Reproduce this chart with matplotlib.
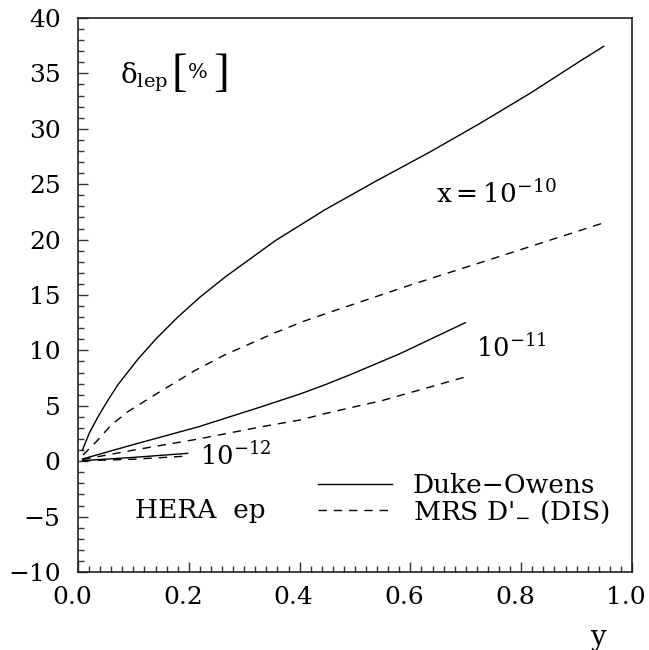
import matplotlib
matplotlib.use("Agg")
import matplotlib.pyplot as plt
from matplotlib.ticker import MultipleLocator
from matplotlib.transforms import ScaledTranslation

plt.rcParams['font.family'] = ['DejaVu Serif']
plt.rcParams['mathtext.fontset'] = 'dejavuserif'

# ---- data ----
# x = 1e-10
y_do_10 = [0.008, 0.02, 0.036, 0.054, 0.072, 0.108, 0.14, 0.18, 0.22, 0.265, 0.356,
           0.446, 0.535, 0.635, 0.726, 0.816, 0.906, 0.949]
d_do_10 = [1.0, 2.5, 4.0, 5.5, 6.9, 9.2, 11.0, 13.0, 14.8, 16.6, 19.9,
           22.7, 25.2, 27.9, 30.5, 33.2, 36.1, 37.45]
y_mrs_10 = [0.009, 0.033, 0.06, 0.09, 0.138, 0.208, 0.265, 0.356, 0.406, 0.446, 0.6, 0.756, 0.948]
d_mrs_10 = [0.56, 1.76, 3.27, 4.47, 5.97, 8.1, 9.6, 11.6, 12.6, 13.3, 15.9, 18.4, 21.5]
# x = 1e-11
y_do_11 = [0.008, 0.1, 0.217, 0.33, 0.401, 0.446, 0.491, 0.581, 0.699]
d_do_11 = [0.2, 1.5, 3.1, 4.9, 6.07, 6.9, 7.8, 9.7, 12.5]
y_mrs_11 = [0.008, 0.1, 0.217, 0.33, 0.401, 0.446, 0.551, 0.699]
d_mrs_11 = [0.15, 1.0, 2.0, 3.1, 3.72, 4.3, 5.5, 7.6]
# x = 1e-12
y_do_12 = [0.008, 0.102, 0.198]
d_do_12 = [0.05, 0.35, 0.71]
y_mrs_12 = [0.008, 0.1, 0.193]
d_mrs_12 = [0.03, 0.18, 0.45]

labels = ['Duke\u2212Owens', r"MRS D$'_{-}$ (DIS)"]

fig = plt.figure(figsize=(6.49, 6.50), dpi=100)
ax = fig.add_axes([78/649, 1 - 572/650, (632-78)/649, (572-18)/650])

lw = 1.0
dash = (6, 5)
l1, = ax.plot(y_do_10, d_do_10, color='black', lw=lw)
l2, = ax.plot(y_mrs_10, d_mrs_10, color='black', lw=lw, dashes=dash)
ax.plot(y_do_11, d_do_11, color='black', lw=lw)
ax.plot(y_mrs_11, d_mrs_11, color='black', lw=lw, dashes=dash)
ax.plot(y_do_12, d_do_12, color='black', lw=lw)
ax.plot(y_mrs_12, d_mrs_12, color='black', lw=lw, dashes=dash)

ax.set_xlim(0, 1)
ax.set_ylim(-10, 40)
ax.xaxis.set_major_locator(MultipleLocator(0.2))
ax.xaxis.set_minor_locator(MultipleLocator(0.02))
ax.yaxis.set_major_locator(MultipleLocator(5))
ax.yaxis.set_minor_locator(MultipleLocator(1))
ax.xaxis.set_major_formatter(matplotlib.ticker.FormatStrFormatter('%.1f'))
ax.tick_params(which='both', direction='in', top=False, right=False, width=1.0, color='#333333')
ax.tick_params(which='major', length=7)
ax.tick_params(which='minor', length=4)
ax.tick_params(axis='x', which='major', labelsize=18, pad=10)
ax.tick_params(axis='y', which='major', labelsize=18, pad=12.5)
for sp in ax.spines.values():
    sp.set_linewidth(1.2)
    sp.set_color('#222222')

offset = ScaledTranslation(-6/100, 0, fig.dpi_scale_trans)
for lab in ax.get_xticklabels():
    lab.set_transform(lab.get_transform() + offset)

ax.text(0.939, -0.093, 'y', transform=ax.transAxes, ha='center', va='top', fontsize=20)

# delta_lep [ % ]
ax.text(0.076, 34.1, r'δ$_{\mathrm{lep}}$', fontsize=20, ha='left', va='baseline')
ax.text(0.168, 34.86, '[', fontsize=34, ha='left', va='center', family='Liberation Serif')
ax.text(0.198, 35.1, '%', fontsize=15, ha='left', va='center')
ax.text(0.244, 34.86, ']', fontsize=34, ha='left', va='center', family='Liberation Serif')

ax.text(0.646, 23.3, r'x$=$10$^{-10}$', fontsize=19, ha='left', va='baseline')
ax.text(0.718, 9.4, r'10$^{-11}$', fontsize=18.5, ha='left', va='baseline')
ax.text(0.22, -0.34, r'10$^{-12}$', fontsize=18.5, ha='left', va='baseline')
ax.text(0.103, -5.13, 'HERA  ep', fontsize=19, ha='left', va='baseline')

ax.legend([l1, l2], labels, loc='upper left', bbox_to_anchor=(0.433, 0.178),
          frameon=False, fontsize=19, handlelength=2.8, handletextpad=0.8,
          borderpad=0, borderaxespad=0, labelspacing=0.0)

fig.savefig('out.png', dpi=100)
